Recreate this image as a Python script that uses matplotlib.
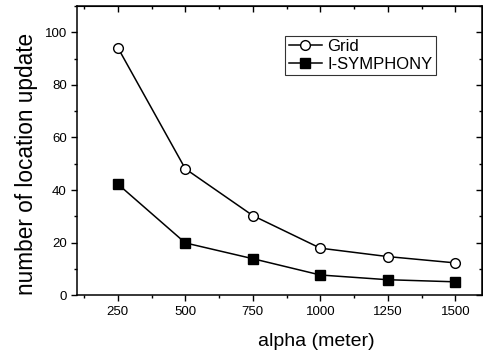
import matplotlib
matplotlib.use("Agg")
import matplotlib.pyplot as plt
from matplotlib.ticker import MultipleLocator

plt.rcParams['font.family'] = ['Liberation Sans', 'DejaVu Sans']

alpha = [250, 500, 750, 1000, 1250, 1500]
grid = [94.2, 48.1, 30.3, 17.9, 14.7, 12.3]
symphony = [42.3, 19.9, 13.9, 7.7, 5.9, 5.1]

fig = plt.figure(figsize=(4.83, 3.54), dpi=100)
ax = fig.add_axes([0.160, 0.166, 0.8386, 0.817])

ax.plot(alpha, grid, color="black", lw=1.1, marker="o", ms=7,
        mfc="white", mec="black", mew=1.0, label="Grid")
ax.plot(alpha, symphony, color="black", lw=1.1, marker="s", ms=7,
        mfc="black", mec="black", label="I-SYMPHONY")

ax.set_xlim(100, 1600)
ax.set_ylim(0, 110)
ax.set_xticks(alpha)
ax.set_yticks([0, 20, 40, 60, 80, 100])
ax.xaxis.set_minor_locator(MultipleLocator(125))
ax.yaxis.set_minor_locator(MultipleLocator(10))
ax.tick_params(which="both", direction="out", labelsize=9.5, width=1)
ax.tick_params(which="major", length=4)
ax.tick_params(which="minor", length=2.5)
# mirrored ticks on top and right point inward
sec_x = ax.secondary_xaxis("top")
sec_x.set_xticks(alpha)
sec_x.xaxis.set_minor_locator(MultipleLocator(125))
sec_x.tick_params(which="both", direction="in", labeltop=False, width=1)
sec_x.tick_params(which="major", length=4)
sec_x.tick_params(which="minor", length=2.5)
sec_y = ax.secondary_yaxis("right")
sec_y.set_yticks([0, 20, 40, 60, 80, 100])
sec_y.yaxis.set_minor_locator(MultipleLocator(10))
sec_y.tick_params(which="both", direction="in", labelright=False, width=1)
sec_y.tick_params(which="major", length=4)
sec_y.tick_params(which="minor", length=2.5)
for s in ax.spines.values():
    s.set_linewidth(1.1)

ax.set_xlabel("alpha (meter)", fontsize=14)
ax.set_ylabel("number of location update", fontsize=16.3)
ax.xaxis.set_label_coords(0.589, -0.13)
ax.yaxis.set_label_coords(-0.097, 0.455)

leg = ax.legend(loc="upper right", bbox_to_anchor=(0.885, 0.897), fontsize=12,
                frameon=True, fancybox=False, edgecolor="black",
                handlelength=2.0, borderpad=0.2, labelspacing=0.15,
                handletextpad=0.3, borderaxespad=0)
leg.get_frame().set_linewidth(0.8)

fig.savefig("out.png", dpi=100)
